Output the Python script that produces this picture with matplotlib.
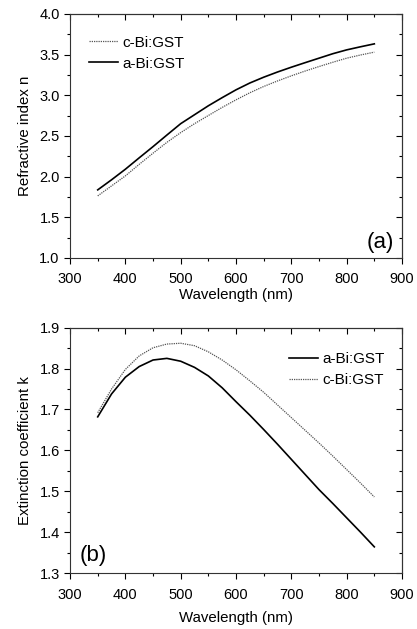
import matplotlib.pyplot as plt
from matplotlib.ticker import MultipleLocator

plt.rcParams['font.family'] = ['Liberation Sans', 'DejaVu Sans']
plt.rcParams['font.size'] = 10.5

# Wavelength (nm)
wavelength = [350, 375, 400, 425, 450, 475, 500, 525, 550, 575, 600,
              625, 650, 675, 700, 725, 750, 775, 800, 825, 850]

# Refractive index n
n_amorphous = [1.836, 1.960, 2.090, 2.230, 2.368, 2.510, 2.650, 2.760, 2.870, 2.970, 3.066,
               3.150, 3.221, 3.285, 3.344, 3.400, 3.455, 3.510, 3.557, 3.595, 3.631]
n_crystal = [1.762, 1.885, 2.008, 2.150, 2.287, 2.420, 2.540, 2.650, 2.750, 2.850, 2.943,
             3.030, 3.107, 3.175, 3.238, 3.297, 3.352, 3.405, 3.455, 3.494, 3.529]

# Extinction coefficient k
k_amorphous = [1.682, 1.738, 1.779, 1.805, 1.821, 1.825, 1.818, 1.803, 1.782, 1.753, 1.719,
               1.686, 1.651, 1.615, 1.578, 1.541, 1.504, 1.470, 1.435, 1.400, 1.364]
k_crystal = [1.692, 1.750, 1.798, 1.831, 1.851, 1.860, 1.862, 1.856, 1.841, 1.821, 1.797,
             1.770, 1.742, 1.711, 1.680, 1.649, 1.618, 1.586, 1.553, 1.520, 1.486]

dotted = dict(color='#555555', linestyle=(0, (1, 0.8)), linewidth=0.9)
solid = dict(color='black', linestyle='-', linewidth=1.2)

fig = plt.figure(figsize=(4.17, 6.29), dpi=100)
ax1 = fig.add_axes([0.168, 0.590, 0.796, 0.388])
ax2 = fig.add_axes([0.168, 0.089, 0.796, 0.390])

# (a) refractive index
ax1.plot(wavelength, n_crystal, label='c-Bi:GST', **dotted)
ax1.plot(wavelength, n_amorphous, label='a-Bi:GST', **solid)
ax1.set_xlim(300, 900)
ax1.set_ylim(1.0, 4.0)
ax1.set_ylabel('Refractive index n', fontsize=10.8, labelpad=5)
ax1.set_xlabel('Wavelength (nm)', fontsize=10.8, labelpad=1)
ax1.text(0.975, 0.02, '(a)', transform=ax1.transAxes, ha='right', va='bottom', fontsize=16)
ax1.legend(loc='upper left', frameon=False, handlelength=1.9, handletextpad=0.25,
           labelspacing=0.45, bbox_to_anchor=(0.04, 0.935), borderaxespad=0, fontsize=11)

# (b) extinction coefficient
ax2.plot(wavelength, k_amorphous, label='a-Bi:GST', **solid)
ax2.plot(wavelength, k_crystal, label='c-Bi:GST', **dotted)
ax2.set_xlim(300, 900)
ax2.set_ylim(1.3, 1.9)
ax2.set_ylabel('Extinction coefficient k', fontsize=10.8, labelpad=5)
ax2.set_xlabel('Wavelength (nm)', fontsize=10.8, labelpad=7)
ax2.text(0.03, 0.03, '(b)', transform=ax2.transAxes, ha='left', va='bottom', fontsize=16)
ax2.legend(loc='upper right', frameon=False, handlelength=1.9, handletextpad=0.25,
           labelspacing=0.45, bbox_to_anchor=(0.965, 0.925), borderaxespad=0, fontsize=11)

for ax, ymaj, ymin in ((ax1, 0.5, 0.25), (ax2, 0.1, 0.05)):
    ax.xaxis.set_major_locator(MultipleLocator(100))
    ax.xaxis.set_minor_locator(MultipleLocator(50))
    ax.yaxis.set_major_locator(MultipleLocator(ymaj))
    ax.yaxis.set_minor_locator(MultipleLocator(ymin))
    ax.yaxis.set_major_formatter('{x:.1f}')
    ax.tick_params(which='both', direction='out', top=False, right=False, width=0.8)
    ax.tick_params(axis='x', which='major', length=4.5, pad=6)
    ax.tick_params(axis='y', which='major', length=4.5, pad=3)
    ax.tick_params(which='minor', length=2.5)
    for s in ax.spines.values():
        s.set_linewidth(0.8)
        s.set_color('#333333')

    # mirrored ticks on top and right point inward
    top = ax.secondary_xaxis('top')
    top.xaxis.set_major_locator(MultipleLocator(100))
    top.xaxis.set_minor_locator(MultipleLocator(50))
    top.tick_params(which='both', direction='in', labeltop=False, width=0.8)
    top.tick_params(which='major', length=4.5)
    top.tick_params(which='minor', length=2.5)
    right = ax.secondary_yaxis('right')
    right.yaxis.set_major_locator(MultipleLocator(ymaj))
    right.yaxis.set_minor_locator(MultipleLocator(ymin))
    right.tick_params(which='both', direction='in', labelright=False, width=0.8)
    right.tick_params(which='major', length=4.5)
    right.tick_params(which='minor', length=2.5)
    for sec in (top, right):
        for s in sec.spines.values():
            s.set_linewidth(0.8)
            s.set_color('#333333')

fig.savefig('out.png', dpi=100)
